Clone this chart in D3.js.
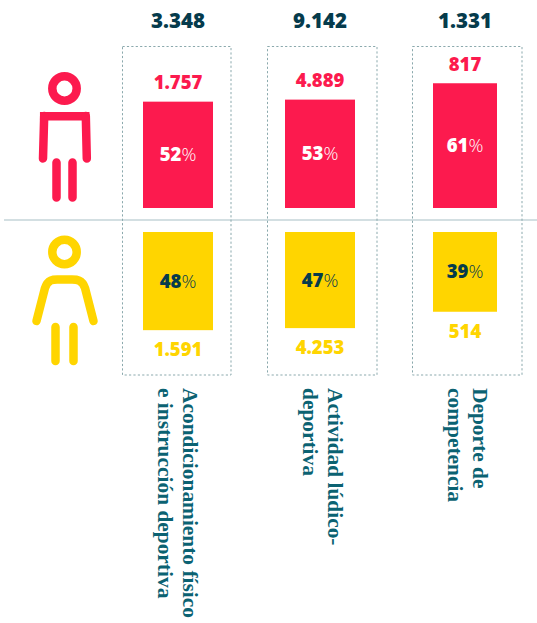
<!DOCTYPE html>
<html><head><meta charset="utf-8">
<script src="https://cdn.jsdelivr.net/npm/d3@7"></script>
<style>html,body{margin:0;padding:0;background:#fff}svg{display:block}</style>
</head><body><svg id="c" width="537" height="623"></svg>
<script>
const categories = ["acond","ludico","comp"];
const totals = ["3.348","9.142","1.331"];
const menCounts = ["1.757","4.889","817"];
const womenCounts = ["1.591","4.253","514"];
const menPct = [52,53,61];
const womenPct = [48,47,39];
const labelLines = [["Acondicionamiento físico","e instrucción deportiva"],["Actividad lúdico-","deportiva"],["Deporte de","competencia"]];

const RED="#fc1a4e", YEL="#ffd500", NAVY="#053b4c", TEAL="#0b6272", DASH="#8ba9ad", RULE="#c5d4d8";
const sans="'Open Sans','Noto Sans',sans-serif";
const svg=d3.select("#c");
const h=d3.scaleLinear().domain([0,100]).range([0,204.5]);
const barX=[143,285,433], barW=[70,70,64];
const boxX=[122.5,267.5,412.5], boxW=[108.5,109.5,109.5];
const midY=208, femTop=232;

svg.append("line").attr("x1",4).attr("x2",537).attr("y1",220).attr("y2",220).attr("stroke",RULE).attr("stroke-width",1.5);

categories.forEach((c,i)=>{
  const cx=barX[i]+barW[i]/2;
  const g=svg.append("g");
  g.append("rect").attr("x",boxX[i]).attr("y",46.5).attr("width",boxW[i]).attr("height",328.5)
    .attr("fill","none").attr("stroke",DASH).attr("stroke-width",1).attr("stroke-dasharray","2.2 2.2");
  const mh=h(menPct[i]), wh=h(womenPct[i]);
  g.append("rect").attr("x",barX[i]).attr("y",midY-mh).attr("width",barW[i]).attr("height",mh).attr("fill",RED);
  g.append("rect").attr("x",barX[i]).attr("y",femTop).attr("width",barW[i]).attr("height",wh).attr("fill",YEL);
  const txt=(x,y,s,fill,size,w)=>g.append("text").attr("x",x).attr("y",y).attr("text-anchor","middle")
    .attr("font-family",sans).attr("font-weight",w||800).attr("font-size",size).attr("fill",fill).text(s);
  txt(cx,28,totals[i],NAVY,20.5);
  txt(cx,midY-mh-12.5,menCounts[i],RED,18.5);
  txt(cx,femTop+wh+26,womenCounts[i],YEL,18.5);
  const pct=(y,v,fill)=>{
    const t=g.append("text").attr("x",cx).attr("y",y).attr("text-anchor","middle").attr("font-family",sans).attr("font-size",18.5).attr("fill",fill);
    t.append("tspan").attr("font-weight",800).text(v);
    t.append("tspan").attr("font-weight",300).text("%");
  };
  pct(midY-mh/2+6.5,menPct[i],"#fff");
  pct(femTop+wh/2+6.5,womenPct[i],NAVY);
  const lx=[183,327.5,472.5][i];
  labelLines[i].forEach((l,j)=>{
    g.append("text").attr("transform",`translate(${lx-j*24.8},388) rotate(90)`)
      .attr("font-family","'Liberation Serif',serif").attr("font-weight",700).attr("font-size",21.4).attr("fill",TEAL).text(l);
  });
});

// icons
const man=svg.append("g").attr("fill","none").attr("stroke",RED).attr("stroke-width",8.5).attr("stroke-linecap","round");
man.append("circle").attr("cx",64.5).attr("cy",88.5).attr("r",12.2);
man.append("path").attr("stroke-linecap","butt").attr("d","M89.5 116.2H44.2V120");
man.append("path").attr("d","M44.2 116L43 158.5M85.8 116L86.8 158.5");
man.append("path").attr("d","M56.5 162.5V197.5M72.5 162.5V197.5");
const wom=svg.append("g").attr("fill","none").attr("stroke",YEL).attr("stroke-width",8.5).attr("stroke-linecap","round");
wom.append("circle").attr("cx",64.5).attr("cy",252).attr("r",12.2);
wom.append("path").attr("d","M36.5 321L45 288C48 279 54 279.5 58 279.5H71C76 279.5 82 279 85 288L93.5 321");
wom.append("path").attr("d","M55.5 327V361M73.5 327V361");
</script></body></html>
